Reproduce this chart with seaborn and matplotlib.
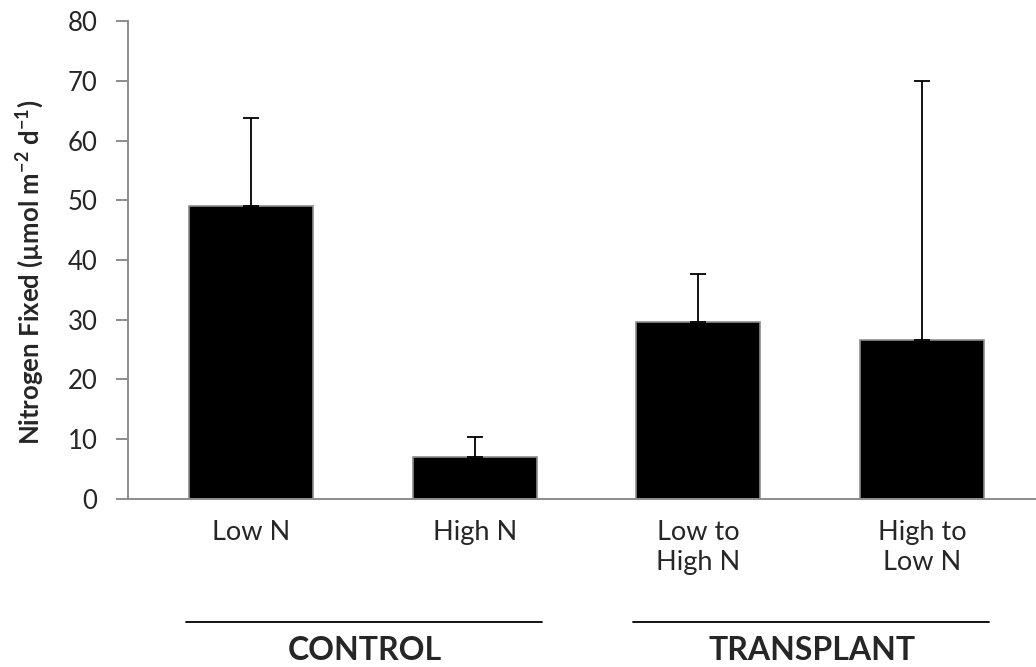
import matplotlib
matplotlib.use("Agg")
import matplotlib.pyplot as plt
import matplotlib.transforms as mtransforms
import seaborn as sns
import pandas as pd
import numpy as np

categories = ["Low N", "High N", "Low to\nHigh N", "High to\nLow N"]
means = [49.0, 7.0, 29.6, 26.6]
upper_err = [14.7, 3.4, 8.1, 43.4]
groups = ["CONTROL", "TRANSPLANT"]
group_members = [[0, 1], [2, 3]]
yticks = [0, 10, 20, 30, 40, 50, 60, 70, 80]

sns.set_theme(style="white")
plt.rcParams['font.family'] = ['Lato', 'DejaVu Sans']
plt.rcParams['mathtext.fontset'] = 'custom'
plt.rcParams['mathtext.rm'] = 'Lato'
plt.rcParams['mathtext.bf'] = 'Lato:bold'

fig = plt.figure(figsize=(10.36, 6.67), dpi=100)
ax = fig.add_axes([0.1236, 0.2519, 0.8764, 0.7166])

df = pd.DataFrame({"cat": categories, "val": means})
sns.barplot(data=df, x="cat", y="val", ax=ax, color="black", width=0.555,
            edgecolor="#8c8c8c", linewidth=1.2, saturation=1, errorbar=None)

xpos = np.arange(len(categories))
ax.errorbar(xpos, means, yerr=[np.zeros(len(means)), upper_err], fmt="none",
            ecolor="black", elinewidth=1.3, capsize=6, capthick=1.3)

ax.set_ylim(0, 80)
ax.set_yticks(yticks)
ax.set_xlim(-0.55, 3.51)
ax.set_xlabel("")
ax.set_ylabel("Nitrogen Fixed (µmol m$^{\\mathbf{-2}}$ d$^{\\mathbf{-1}}$)",
              fontsize=18.5, fontweight="bold")
ax.yaxis.label.set_verticalalignment("center")
ax.yaxis.set_label_coords(-0.108, 0.475)

for s in ["top", "right"]:
    ax.spines[s].set_visible(False)
for s in ["left", "bottom"]:
    ax.spines[s].set_color("#8c8c8c")
    ax.spines[s].set_linewidth(1.4)

ax.tick_params(axis="y", which="both", left=True, length=9, width=1.4,
               color="#8c8c8c", labelsize=18.5, pad=13, direction="out")
ax.tick_params(axis="x", bottom=False, labelsize=19.5, pad=9)
for lbl in ax.get_xticklabels():
    lbl.set_verticalalignment("top")
    lbl.set_linespacing(1.25)

trans = mtransforms.blended_transform_factory(ax.transData, ax.transAxes)
for g, members in zip(groups, group_members):
    x0 = min(members) - 0.29
    x1 = max(members) + 0.30
    ax.plot([x0, x1], [-0.257, -0.257], transform=trans, color="black",
            lw=1.3, clip_on=False)
    ax.text((min(members) + max(members)) / 2 + 0.01, -0.318, g, transform=trans,
            ha="center", va="center", fontsize=23, fontweight="bold")

fig.savefig("out.png", dpi=100)
